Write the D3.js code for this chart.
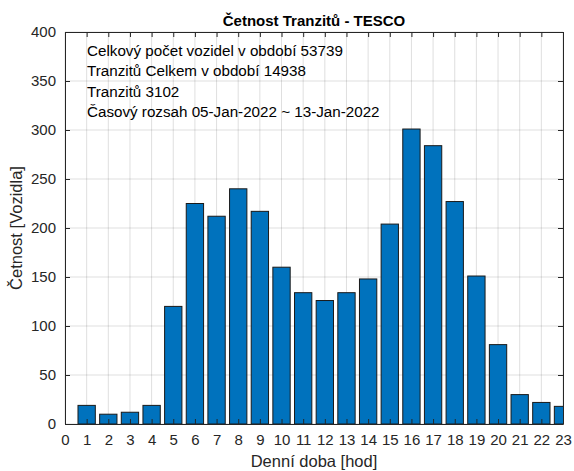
<!DOCTYPE html>
<html>
<head>
<meta charset="utf-8">
<script src="https://cdn.jsdelivr.net/npm/d3@7"></script>
<style>
  body { margin: 0; background: #fff; }
  svg { font-family: "Liberation Sans", Arial, sans-serif; }
</style>
</head>
<body>
<script>
// Hours of the day and transit counts per hour
var hours = [1, 2, 3, 4, 5, 6, 7, 8, 9, 10, 11, 12, 13, 14, 15, 16, 17, 18, 19, 20, 21, 22, 23];
var counts = [19, 10, 12, 19, 120, 225, 212, 240, 217, 160, 134, 126, 134, 148, 204, 301, 284, 227, 151, 81, 30, 22, 18];
var xTicks = d3.range(0, 24);
var yTicks = [0, 50, 100, 150, 200, 250, 300, 350, 400];
var infoLines = [
  "Celkový počet vozidel v období 53739",
  "Tranzitů Celkem v období 14938",
  "Tranzitů 3102",
  "Časový rozsah 05-Jan-2022 ~ 13-Jan-2022"
];

var svgWidth = 574;
var svgHeight = 471;
var margin = { top: 32, right: 11, bottom: 47, left: 65 };
var chartWidth = svgWidth - margin.left - margin.right;
var chartHeight = svgHeight - margin.top - margin.bottom;

var svg = d3.select("body").append("svg")
  .attr("width", svgWidth)
  .attr("height", svgHeight);

var chartGroup = svg.append("g")
  .attr("transform", "translate(" + margin.left + "," + margin.top + ")");

var xScale = d3.scaleLinear().domain([0, 23]).range([0, chartWidth]);
var yScale = d3.scaleLinear().domain([0, 400]).range([chartHeight, 0]);

// clip so the last bar gets cut at the axis edge
svg.append("clipPath").attr("id", "clip")
  .append("rect").attr("width", chartWidth).attr("height", chartHeight);

// grid
chartGroup.append("g").selectAll("line.gx").data(xTicks).enter().append("line")
  .attr("x1", d => xScale(d)).attr("x2", d => xScale(d))
  .attr("y1", 0).attr("y2", chartHeight)
  .attr("stroke", "#262626").attr("stroke-opacity", 0.15);
chartGroup.append("g").selectAll("line.gy").data(yTicks).enter().append("line")
  .attr("x1", 0).attr("x2", chartWidth)
  .attr("y1", d => yScale(d)).attr("y2", d => yScale(d))
  .attr("stroke", "#262626").attr("stroke-opacity", 0.15);

// bars
var barW = xScale(0.8) - xScale(0);
chartGroup.append("g").attr("clip-path", "url(#clip)")
  .selectAll("rect").data(hours).enter().append("rect")
  .attr("x", (d) => xScale(d) - barW / 2)
  .attr("y", (d, i) => yScale(counts[i]))
  .attr("width", barW)
  .attr("height", (d, i) => chartHeight - yScale(counts[i]))
  .attr("fill", "#0072BD")
  .attr("stroke", "#1a1a1a")
  .attr("stroke-width", 1);

// axes, MATLAB style with inward ticks
var tickLen = 5;
var axColor = "#262626";
chartGroup.append("g")
  .attr("transform", "translate(0," + chartHeight + ")")
  .call(d3.axisBottom(xScale).tickValues(xTicks).tickSizeInner(-tickLen).tickSizeOuter(0).tickPadding(10))
  .call(g => g.select(".domain").attr("stroke", axColor))
  .call(g => g.selectAll(".tick line").attr("stroke", axColor))
  .call(g => g.selectAll("text").attr("fill", axColor).attr("font-size", 15).attr("font-family", "Liberation Sans, Arial, sans-serif"));
chartGroup.append("g")
  .call(d3.axisTop(xScale).tickValues(xTicks).tickSizeInner(-tickLen).tickSizeOuter(0).tickFormat(""))
  .call(g => g.select(".domain").attr("stroke", axColor))
  .call(g => g.selectAll(".tick line").attr("stroke", axColor));
chartGroup.append("g")
  .call(d3.axisLeft(yScale).tickValues(yTicks).tickSizeInner(-tickLen).tickSizeOuter(0).tickPadding(9))
  .call(g => g.select(".domain").attr("stroke", axColor))
  .call(g => g.selectAll(".tick line").attr("stroke", axColor))
  .call(g => g.selectAll("text").attr("fill", axColor).attr("font-size", 15).attr("font-family", "Liberation Sans, Arial, sans-serif"));
chartGroup.append("g")
  .attr("transform", "translate(" + chartWidth + ",0)")
  .call(d3.axisRight(yScale).tickValues(yTicks).tickSizeInner(-tickLen).tickSizeOuter(0).tickFormat(""))
  .call(g => g.select(".domain").attr("stroke", axColor))
  .call(g => g.selectAll(".tick line").attr("stroke", axColor));

// info text block
chartGroup.append("g").selectAll("text").data(infoLines).enter().append("text")
  .attr("x", 22)
  .attr("y", (d, i) => 24 + i * 20.4)
  .attr("font-size", 15.2)
  .attr("fill", "#000")
  .text(d => d);

// title and labels
svg.append("text")
  .attr("x", margin.left + chartWidth / 2).attr("y", 26)
  .attr("text-anchor", "middle")
  .attr("font-size", 15).attr("font-weight", "bold").attr("fill", "#000")
  .text("Četnost Tranzitů - TESCO");
svg.append("text")
  .attr("x", margin.left + chartWidth / 2).attr("y", 467)
  .attr("text-anchor", "middle")
  .attr("font-size", 16.5).attr("fill", axColor)
  .text("Denní doba [hod]");
svg.append("text")
  .attr("transform", "translate(22," + (margin.top + chartHeight / 2) + ") rotate(-90)")
  .attr("text-anchor", "middle")
  .attr("font-size", 16.5).attr("fill", axColor)
  .text("Četnost [Vozidla]");
</script>
</body>
</html>
